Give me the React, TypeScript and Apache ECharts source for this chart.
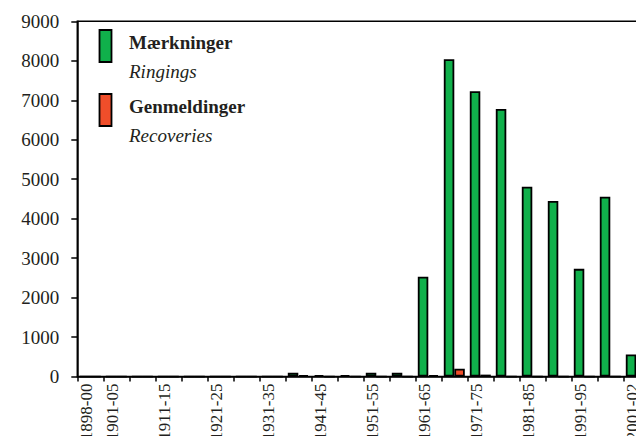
import React, { useEffect, useRef } from "react";
import * as echarts from "echarts";

const categories = [
  "1898-00", "1901-05", "1906-10", "1911-15", "1916-20", "1921-25", "1926-30",
  "1931-35", "1936-40", "1941-45", "1946-50", "1951-55", "1956-60", "1961-65",
  "1966-70", "1971-75", "1976-80", "1981-85", "1986-90", "1991-95", "1996-00", "2001-02",
];
const ringings = [0, 0, 0, 0, 0, 0, 0, 0, 100, 40, 40, 100, 100, 2530, 8040, 7230, 6780, 4810, 4450, 2730, 4555, 560];
const recoveries = [0, 0, 0, 0, 0, 0, 0, 0, 40, 0, 0, 0, 0, 40, 200, 50, 0, 0, 0, 0, 0, 0];
const yTicks = { min: 0, max: 9000, interval: 1000 };
const legendItems = [
  { name: "Mærkninger", sub: "Ringings", color: "#10b04b" },
  { name: "Genmeldinger", sub: "Recoveries", color: "#f04e2a" },
];

const FONT = "Liberation Serif";
const INK = "#231f20";

export default function App() {
  const ref = useRef<HTMLDivElement>(null);
  useEffect(() => {
    if (!ref.current) return;
    const chart = echarts.init(ref.current, null, { renderer: "svg" });
    const graphics: any[] = [];
    legendItems.forEach((it, i) => {
      const top = 30 + i * 64;
      graphics.push({
        type: "rect",
        shape: { x: 99.5, y: top, width: 12, height: 32 },
        style: { fill: it.color, stroke: "#000", lineWidth: 1.8 },
      });
      graphics.push({
        type: "text",
        x: 129,
        y: top + 12,
        style: { text: it.name, fontFamily: FONT, fontSize: 19, fontWeight: "bold", fill: INK, verticalAlign: "middle" },
      });
      graphics.push({
        type: "text",
        x: 129,
        y: top + 41.5,
        style: { text: it.sub, fontFamily: FONT, fontSize: 19, fontStyle: "italic", fill: INK, verticalAlign: "middle" },
      });
    });
    chart.setOption({
      animation: false,
      textStyle: { fontFamily: FONT },
      grid: {
        left: 77.3,
        top: 21.3,
        width: 572,
        height: 355.3,
        outerBoundsMode: "none",
        containLabel: false,
        show: true,
        borderColor: "#000",
        borderWidth: 1.5,
        backgroundColor: "transparent",
      },
      xAxis: {
        type: "category",
        data: categories,
        axisLine: { lineStyle: { color: "#000", width: 1.5 } },
        axisTick: { show: true, interval: 0, length: 5, lineStyle: { color: "#000", width: 1.5 } },
        axisLabel: {
          rotate: 90,
          interval: (idx: number) => idx === 0 || idx % 2 === 1,
          margin: 7,
          fontFamily: FONT,
          fontSize: 17,
          color: INK,
          verticalAlign: "bottom",
          lineHeight: 8,
        },
      },
      yAxis: {
        type: "value",
        min: yTicks.min,
        max: yTicks.max,
        interval: yTicks.interval,
        splitLine: { show: false },
        axisLine: { show: true, lineStyle: { color: "#000", width: 1.5 } },
        axisTick: { show: true, length: 6, lineStyle: { color: "#000", width: 1.5 } },
        axisLabel: { margin: 18, fontFamily: FONT, fontSize: 19, color: INK, formatter: (v: number) => String(v) },
      },
      series: [
        {
          type: "bar",
          name: "Mærkninger",
          data: ringings,
          barWidth: 10.5,
          barGap: "0%",
          itemStyle: { color: legendItems[0].color, borderColor: "#000", borderWidth: 1.8 },
        },
        {
          type: "bar",
          name: "Genmeldinger",
          data: recoveries,
          barWidth: 10.5,
          barGap: "0%",
          itemStyle: { color: legendItems[1].color, borderColor: "#000", borderWidth: 1.8 },
        },
      ],
      graphic: graphics,
    });
    return () => chart.dispose();
  }, []);
  return (
    <div style={{ position: "absolute", left: 0, top: 0, width: 636, height: 436, overflow: "hidden", background: "#fff" }}>
      <div ref={ref} style={{ width: 636, height: 436 }} />
    </div>
  );
}
